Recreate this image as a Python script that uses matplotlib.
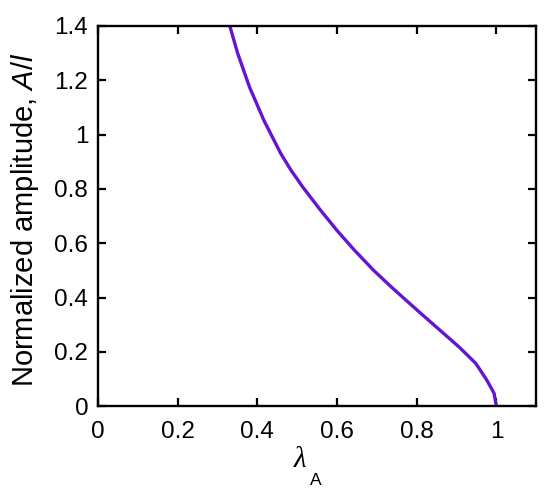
import numpy as np
import matplotlib
matplotlib.use('Agg')
import matplotlib.pyplot as plt
from matplotlib.ticker import FuncFormatter, MultipleLocator

plt.rcParams['font.family'] = ['Liberation Sans', 'DejaVu Sans']
plt.rcParams['mathtext.fontset'] = 'custom'
plt.rcParams['mathtext.rm'] = 'Liberation Sans'
plt.rcParams['mathtext.it'] = 'Liberation Sans:italic'

# curve
lambda_a = [0.331, 0.351, 0.381, 0.417, 0.459, 0.485, 0.515, 0.559, 0.600, 0.644,
            0.692, 0.737, 0.765, 0.810, 0.859, 0.907, 0.948, 0.976, 0.994, 1.0]
amplitude = [1.40, 1.298, 1.173, 1.051, 0.930, 0.868, 0.805, 0.721, 0.647, 0.574,
             0.500, 0.438, 0.401, 0.342, 0.279, 0.217, 0.158, 0.096, 0.048, 0.0]

fig = plt.figure(figsize=(5.5, 4.99), dpi=100)
ax = fig.add_axes([0.178, 0.186, 0.797, 0.762])

ax.plot(lambda_a, amplitude, color='#6414d2', lw=2.4, solid_capstyle='butt',
        solid_joinstyle='round')

ax.set_xlim(0, 1.1)
ax.set_ylim(0, 1.4)
ax.xaxis.set_major_locator(MultipleLocator(0.2))
ax.yaxis.set_major_locator(MultipleLocator(0.2))
fmt = FuncFormatter(lambda v, p: '%g' % round(v, 2))
ax.xaxis.set_major_formatter(fmt)
ax.yaxis.set_major_formatter(fmt)

ax.tick_params(direction='in', length=6, width=1.6, labelsize=17.5,
               top=True, right=True)
ax.tick_params(axis='x', pad=11)
ax.tick_params(axis='y', pad=7)
for s in ax.spines.values():
    s.set_linewidth(1.7)

# x label: lambda with a low-set subscript A
ax.text(0.461, -0.142, 'λ', transform=ax.transAxes, ha='center', va='center',
        fontsize=21, family='Liberation Serif', style='italic')
ax.text(0.498, -0.195, 'A', transform=ax.transAxes, ha='center', va='center',
        fontsize=12.5)

ax.set_ylabel(r'Normalized amplitude, $\mathit{A/l}$', fontsize=21)
ax.yaxis.set_label_coords(-0.130, 0.49)

fig.savefig('out.png', dpi=100)
